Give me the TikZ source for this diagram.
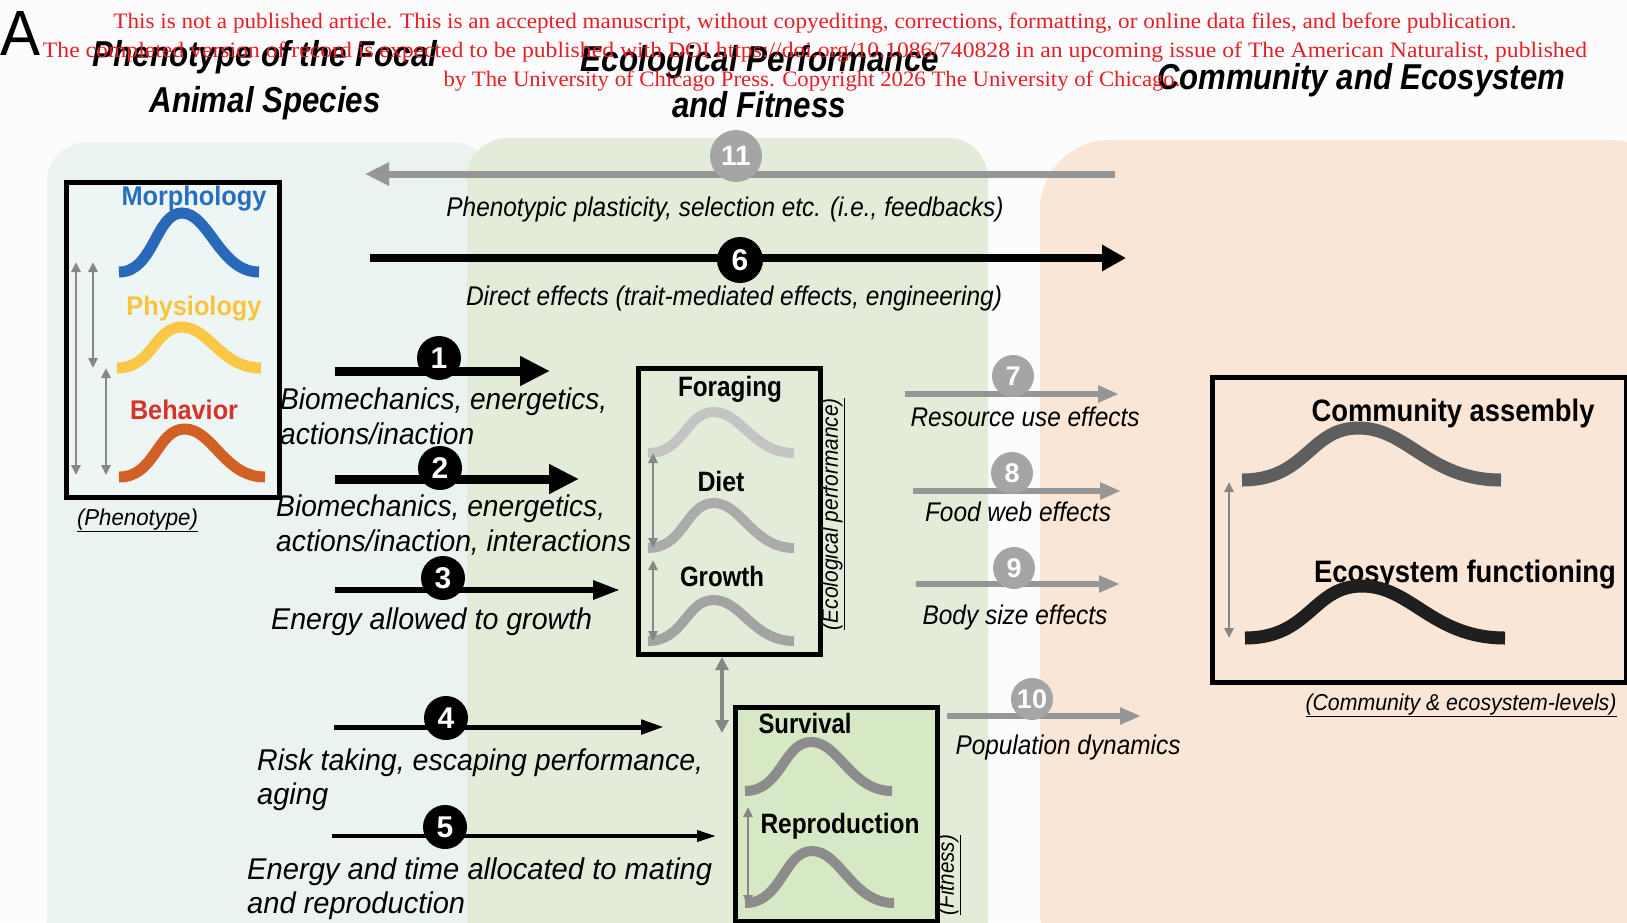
\documentclass[tikz,border=0pt]{standalone}
\usepackage{fontspec}
\setmainfont{Liberation Sans}
\newfontfamily\wmfont{Liberation Serif}
\usepackage{graphicx}
\usetikzlibrary{arrows.meta}
\definecolor{wmred}{RGB}{232,30,38}
\definecolor{bgblue}{RGB}{234,243,240}
\definecolor{bggreen}{RGB}{227,236,216}
\definecolor{bgpeach}{RGB}{249,230,214}
\definecolor{fitgreen}{RGB}{214,232,196}
\definecolor{phenfill}{RGB}{238,245,245}
\definecolor{morphblue}{RGB}{40,110,190}
\definecolor{physyel}{RGB}{250,195,60}
\definecolor{behred}{RGB}{215,50,40}
\definecolor{curvblue}{RGB}{40,105,185}
\definecolor{curvyel}{RGB}{250,200,70}
\definecolor{curvorg}{RGB}{210,95,35}
\definecolor{arrgray}{RGB}{150,150,150}
\definecolor{numgray}{RGB}{165,165,165}
\definecolor{dblgray}{RGB}{135,135,135}
\newcommand{\fw}[2]{\resizebox{#1pt}{\height}{#2}}
\newcommand{\bellcurve}[6]{%
  \draw[line width=#6pt, color=#5] (#1,#3) .. controls ({#1+0.25*(#2-#1)},#3) and ({#1+0.26*(#2-#1)},#4) .. ({#1+0.45*(#2-#1)},#4) .. controls ({#1+0.64*(#2-#1)},#4) and ({#1+0.72*(#2-#1)},#3) .. (#2,#3);}
\tikzset{
  ttl/.style={inner sep=0pt, anchor=base, font=\fontsize{36}{40}\selectfont\bfseries\itshape},
  lab/.style={inner sep=0pt, anchor=base west, font=\fontsize{30}{34}\selectfont\itshape},
  mlab/.style={inner sep=0pt, anchor=base, font=\fontsize{27}{30}\selectfont\itshape},
  blab/.style={inner sep=0pt, anchor=base, font=\fontsize{27}{30}\selectfont\bfseries},
  clab/.style={inner sep=0pt, anchor=base, font=\fontsize{31}{34}\selectfont\bfseries},
  ulab/.style={inner sep=0pt, font=\fontsize{23}{26}\selectfont\itshape},
  wm/.style={inner sep=0pt, anchor=base, text=wmred, font=\wmfont\fontsize{22}{24}\selectfont},
  box/.style={draw=black, line width=5pt, anchor=north west, inner sep=0pt},
  numb/.style={circle, fill=black, text=white, minimum size=44pt, inner sep=0pt, font=\fontsize{30}{30}\selectfont\bfseries},
  numg/.style={circle, fill=numgray, text=white, minimum size=42pt, inner sep=0pt, font=\fontsize{27}{27}\selectfont\bfseries},
  dbl/.style={draw=dblgray, line width=2.5pt, {Triangle[length=10pt,width=9pt]}-{Triangle[length=10pt,width=9pt]}},
  grayarr/.style={draw=arrgray, line width=5.5pt, -{Triangle[length=21pt,width=16pt]}}
}
\begin{document}
\begin{tikzpicture}[x=1pt,y=-1pt]
\useasboundingbox (0,0) rectangle (1627,922);
\clip (0,0) rectangle (1627,922);
\fill[white!98!gray] (0,0) rectangle (1627,922);
% background regions
\fill[bgblue, rounded corners=40pt] (47,142) rectangle (492,960);
\fill[bggreen, rounded corners=40pt] (467,138) rectangle (988,960);
\fill[bgpeach, rounded corners=70pt] (1040,140) rectangle (1680,980);

% titles
\node[inner sep=0pt, anchor=base west, font=\fontsize{64}{64}\selectfont] (bigA) at (0,55) {\fw{40}{A}};
\node[ttl] (t1a) at (265,66) {\fw{345}{Phenotype of the Focal}};
\node[ttl] (t1b) at (265,112) {\fw{231}{Animal Species}};
\node[ttl] (t2a) at (760,71) {\fw{358}{Ecological Performance}};
\node[ttl] (t2b) at (759,117) {\fw{174}{and Fitness}};
\node[ttl] (t3) at (1361,89) {\fw{408}{Community and Ecosystem}};

% boxes
\node[box, fill=phenfill, minimum width=213pt, minimum height=315pt] (pbox) at (64,180) {};
\node[box, minimum width=182pt, minimum height=286pt] (ebox) at (636,366) {};
\node[box, fill=fitgreen, minimum width=202pt, minimum height=214pt] (fbox) at (733,705) {};
\node[box, minimum width=414pt, minimum height=305pt] (cbox) at (1210,375) {};

% phenotype box content
\node[blab, text=morphblue] (morph) at (194,205) {\fw{145}{Morphology}};
\bellcurve{119}{259}{272}{213}{curvblue}{11}
\node[blab, text=physyel] (phys) at (194,315) {\fw{135}{Physiology}};
\bellcurve{117}{261}{368}{327}{curvyel}{11}
\node[blab, text=behred] (behav) at (184,419) {\fw{108}{Behavior}};
\bellcurve{119}{265}{477}{429}{curvorg}{11}
\coordinate (pa1) at (76,262); \coordinate (pa2) at (76,475);
\coordinate (pb1) at (93,262); \coordinate (pb2) at (93,368);
\coordinate (pc1) at (106,368); \coordinate (pc2) at (106,475);
\draw[dbl] (pa1) -- (pa2);
\draw[dbl] (pb1) -- (pb2);
\draw[dbl] (pc1) -- (pc2);
\node[ulab, anchor=base] (phenlab) at (137.5,525) {\fw{121}{\underline{(Phenotype)}}};

% ecological performance box content
\node[blab, font=\fontsize{28}{30}\selectfont\bfseries] (forag) at (730,396) {\fw{104}{Foraging}};
\bellcurve{648}{794}{453}{412}{black!23}{10}
\node[blab, font=\fontsize{28}{30}\selectfont\bfseries] (diet) at (721,491) {\fw{47}{Diet}};
\bellcurve{648}{794}{548}{503}{black!33}{10}
\node[blab, font=\fontsize{28}{30}\selectfont\bfseries] (growth) at (722,586) {\fw{84}{Growth}};
\bellcurve{648}{794}{641}{600}{black!36}{10}
\coordinate (ea1) at (653,453); \coordinate (ea2) at (653,548);
\coordinate (eb1) at (653,560); \coordinate (eb2) at (653,641);
\draw[dbl] (ea1) -- (ea2);
\draw[dbl] (eb1) -- (eb2);
\node[ulab, rotate=90] (ecolab) at (833,514) {\fw{232}{\underline{(Ecological performance)}}};

% link between boxes
\coordinate (lk1) at (722,657); \coordinate (lk2) at (722,733);
\draw[draw=dblgray, line width=4pt, {Triangle[length=13pt,width=13pt]}-{Triangle[length=13pt,width=13pt]}] (lk1) -- (lk2);

% fitness box content
\node[blab, font=\fontsize{28}{30}\selectfont\bfseries] (surv) at (805,733) {\fw{93}{Survival}};
\bellcurve{745}{892}{791}{742}{black!45}{10}
\node[blab, font=\fontsize{28}{30}\selectfont\bfseries] (repro) at (840,833) {\fw{159}{Reproduction}};
\bellcurve{745}{894}{903}{851}{black!45}{10}
\coordinate (fa1) at (748,807); \coordinate (fa2) at (748,905);
\draw[dbl] (fa1) -- (fa2);
\node[ulab, rotate=90] (fitlab) at (949,875) {\fw{80}{\underline{(Fitness)}}};

% community box content
\node[clab] (comass) at (1453,421) {\fw{283}{Community assembly}};
\bellcurve{1242}{1501}{480}{428}{black!63}{13}
\node[clab] (ecofun) at (1465,582) {\fw{302}{Ecosystem functioning}};
\bellcurve{1245}{1505}{638}{586}{black!88}{13}
\coordinate (ca1) at (1229,482); \coordinate (ca2) at (1229,638);
\draw[dbl] (ca1) -- (ca2);
\node[ulab, anchor=base] (comlab) at (1461,710) {\fw{311}{\underline{(Community \& ecosystem-levels)}}};

% arrow 11 (feedback)
\coordinate (a11s) at (1115,174); \coordinate (a11e) at (365,174);
\draw[draw=arrgray, line width=7pt, -{Triangle[length=24pt,width=22pt]}] (a11s) -- (a11e);
\node[circle, fill=numgray, text=white, minimum size=52pt, inner sep=0pt, font=\fontsize{28}{28}\selectfont\bfseries] (n11) at (736,156) {11};
\node[mlab] (l11) at (725,216) {\fw{557}{Phenotypic plasticity, selection etc. (i.e., feedbacks)}};

% arrow 6
\coordinate (a6s) at (370,258); \coordinate (a6e) at (1126,258);
\draw[draw=black, line width=8pt, -{Triangle[length=24pt,width=25pt]}] (a6s) -- (a6e);
\node[numb, minimum size=46pt] (n6) at (740,260) {6};
\node[mlab] (l6) at (734,305) {\fw{536}{Direct effects (trait-mediated effects, engineering)}};

% arrows 1-5
\coordinate (a1s) at (335,371); \coordinate (a1e) at (550,371);
\draw[draw=black, line width=9pt, -{Triangle[length=30pt,width=28pt]}] (a1s) -- (a1e);
\node[numb] (n1) at (439,358) {1};
\node[lab] (l1a) at (280,409) {\fw{327}{Biomechanics, energetics,}};
\node[lab] (l1b) at (280,444) {\fw{194}{actions/inaction}};

\coordinate (a2s) at (335,479); \coordinate (a2e) at (579,479);
\draw[draw=black, line width=9pt, -{Triangle[length=30pt,width=28pt]}] (a2s) -- (a2e);
\node[numb] (n2) at (440,468) {2};
\node[lab] (l2a) at (276,516) {\fw{329}{Biomechanics, energetics,}};
\node[lab] (l2b) at (276,551) {\fw{355}{actions/inaction, interactions}};

\coordinate (a3s) at (335,590); \coordinate (a3e) at (620,590);
\draw[draw=black, line width=6pt, -{Triangle[length=27pt,width=18pt]}] (a3s) -- (a3e);
\node[numb] (n3) at (443,578) {3};
\node[lab] (l3) at (271,629) {\fw{321}{Energy allowed to growth}};

\coordinate (a4s) at (334,727); \coordinate (a4e) at (664,727);
\draw[draw=black, line width=5pt, -{Triangle[length=23pt,width=14pt]}] (a4s) -- (a4e);
\node[numb] (n4) at (446,718) {4};
\node[lab] (l4a) at (257,770) {\fw{446}{Risk taking, escaping performance,}};
\node[lab] (l4b) at (257,804) {\fw{71}{aging}};

\coordinate (a5s) at (332,836); \coordinate (a5e) at (716,836);
\draw[draw=black, line width=3.5pt, -{Triangle[length=19pt,width=11pt]}] (a5s) -- (a5e);
\node[numb] (n5) at (445,827) {5};
\node[lab] (l5a) at (247,879) {\fw{465}{Energy and time allocated to mating}};
\node[lab] (l5b) at (247,913) {\fw{218}{and reproduction}};

% arrows 7-10
\coordinate (a7s) at (905,394); \coordinate (a7e) at (1119,394);
\draw[grayarr] (a7s) -- (a7e);
\node[numg] (n7) at (1013,376) {7};
\node[mlab] (l7) at (1025,426) {\fw{229}{Resource use effects}};

\coordinate (a8s) at (913,491); \coordinate (a8e) at (1121,491);
\draw[grayarr] (a8s) -- (a8e);
\node[numg] (n8) at (1012,473) {8};
\node[mlab] (l8) at (1018,521) {\fw{186}{Food web effects}};

\coordinate (a9s) at (916,584); \coordinate (a9e) at (1120,584);
\draw[grayarr] (a9s) -- (a9e);
\node[numg] (n9) at (1014,568) {9};
\node[mlab] (l9) at (1015,624) {\fw{185}{Body size effects}};

\coordinate (a10s) at (947,716); \coordinate (a10e) at (1141,716);
\draw[grayarr] (a10s) -- (a10e);
\node[numg] (n10) at (1032,699) {10};
\node[mlab] (l10) at (1068,754) {\fw{225}{Population dynamics}};

% watermark
\node[wm] (w1) at (815,28) {\fw{1403}{This is not a published article. This is an accepted manuscript, without copyediting, corrections, formatting, or online data files, and before publication.}};
\node[wm] (w2) at (815,57) {\fw{1544}{The completed version of record is expected to be published with DOI https://doi.org/10.1086/740828 in an upcoming issue of The American Naturalist, published}};
\node[wm] (w3) at (812,86) {\fw{737}{by The University of Chicago Press. Copyright 2026 The University of Chicago.}};
\end{tikzpicture}
\end{document}
